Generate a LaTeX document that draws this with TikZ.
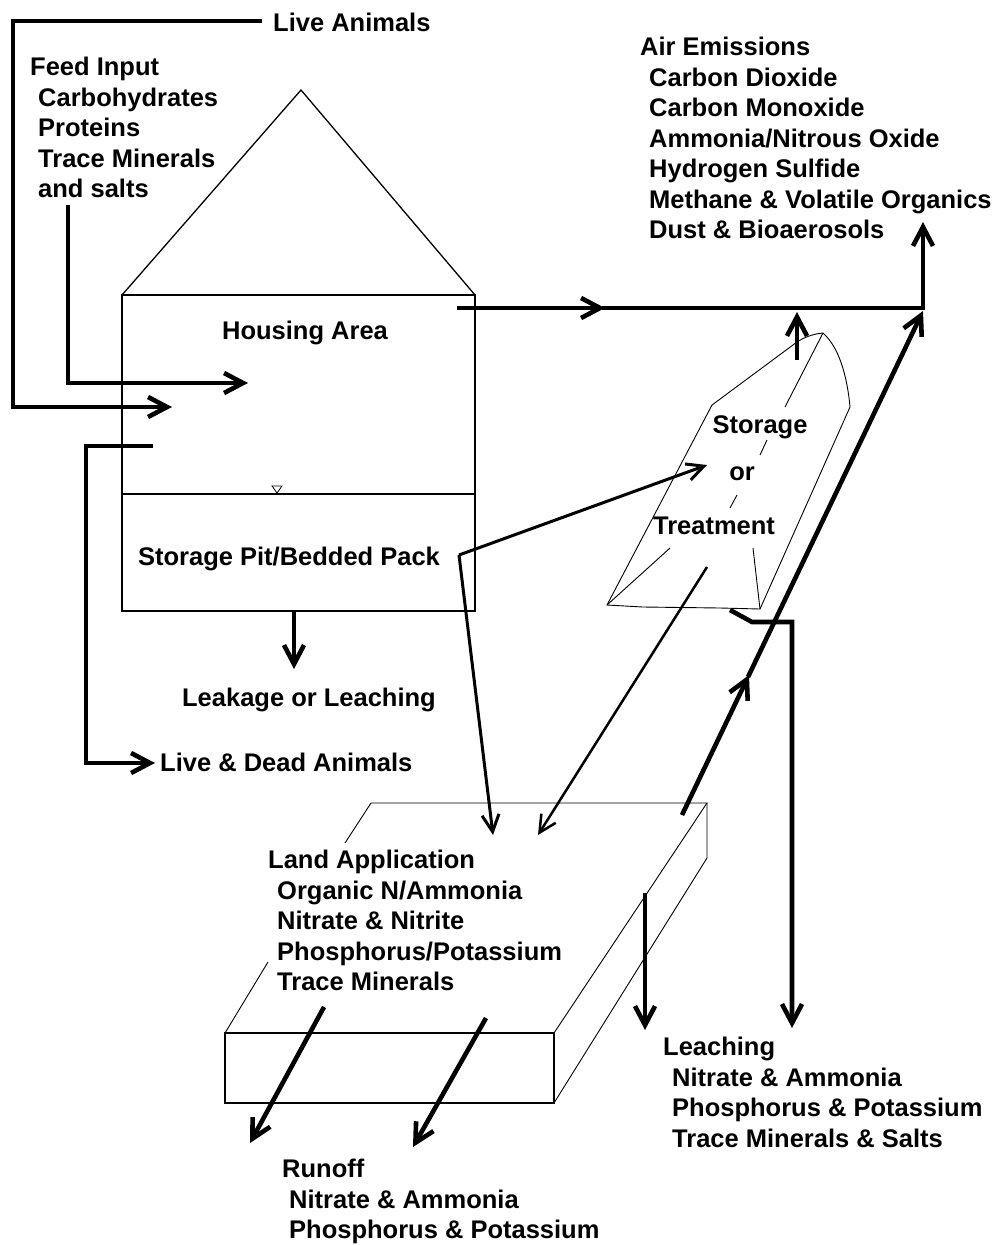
\documentclass[tikz,border=0pt]{standalone}
\usepackage{fontspec}
\setmainfont{Liberation Sans}
\usetikzlibrary{arrows.meta}
\begin{document}
\begin{tikzpicture}[x=1pt,y=-1pt,
  lbl/.style={font=\fontsize{25.5}{30.5}\selectfont\bfseries, inner sep=0pt, anchor=north west, align=left},
  outline/.style={line width=1.3pt, line join=miter},
  faint/.style={line width=0.9pt},
  heavy/.style={line width=4.6pt, line join=miter},
  medium/.style={line width=3pt, line join=miter},
  barb/.style={-{Straight Barb[length=19pt,width=20pt]}},
  sbarb/.style={-{Straight Barb[length=17pt,width=17pt]}}
]
\useasboundingbox[fill=white] (0,0) rectangle (1000,1245);

% ---------- texts ----------
\node[lbl] (livean) at (273,13) {Live Animals};
\node[lbl] (feed) at (30,57) {Feed Input\\\hspace*{8pt}Carbohydrates\\\hspace*{8pt}Proteins\\\hspace*{8pt}Trace Minerals\\\hspace*{8pt}and salts};
\node[lbl,anchor=north] (housing) at (305,321) {Housing Area};
\node[lbl,anchor=north] (pit) at (289,547) {Storage Pit/Bedded Pack};
\node[lbl,anchor=north] (leak) at (309,688) {Leakage or Leaching};
\node[lbl] (livedead) at (160,753) {Live \& Dead Animals};
\node[lbl] (air) at (640,37) {Air Emissions\\\hspace*{9pt}Carbon Dioxide\\\hspace*{9pt}Carbon Monoxide\\\hspace*{9pt}Ammonia/Nitrous Oxide\\\hspace*{9pt}Hydrogen Sulfide\\\hspace*{9pt}Methane \& Volatile Organics\\\hspace*{9pt}Dust \& Bioaerosols};
\node[lbl,anchor=north] (stor) at (760,415) {Storage};
\node[lbl,anchor=base] (or) at (742,480) {or};
\node[lbl,anchor=north] (treat) at (714,517) {Treatment};
\node[lbl] (land) at (268,850) {Land Application\\\hspace*{9pt}Organic N/Ammonia\\\hspace*{9pt}Nitrate \& Nitrite\\\hspace*{9pt}Phosphorus/Potassium\\\hspace*{9pt}Trace Minerals};
\node[lbl] (leach) at (663,1037) {Leaching\\\hspace*{9pt}Nitrate \& Ammonia\\\hspace*{9pt}Phosphorus \& Potassium\\\hspace*{9pt}Trace Minerals \& Salts};
\node[lbl] (runoff) at (282,1159) {Runoff\\\hspace*{7pt}Nitrate \& Ammonia\\\hspace*{7pt}Phosphorus \& Potassium};

% ---------- house ----------
\draw[outline] (122,295) -- (301,90) -- (475,295);
\draw[outline] (122,295) rectangle (475,611);
\draw[outline] (122,494) -- (475,494);
\draw[line width=0.8pt] (272,486) -- (282,486) -- (277,493) -- cycle;

% ---------- storage / treatment shape ----------
\draw[faint] (823,333) .. controls (812,334) and (803,338) .. (797,342)
  -- (712,405) -- (607,605) -- (643,607) -- (720,608) -- (760,609) -- (850,407)
  .. controls (848,385) and (842,350) .. (823,333);
\draw[faint] (823,333) -- (785,407);
\draw[faint] (767,440) -- (760,455);
\draw[faint] (737,495) -- (730,508);
\draw[faint] (670,548) -- (607,605);
\draw[faint] (753,548) -- (760,609);

% ---------- land application slab ----------
\draw[outline] (225,1033) rectangle (554,1103);
\draw[faint] (554,1033) -- (707,803) -- (371,803) -- (345,843);
\draw[faint] (707,803) -- (707,858) -- (554,1103);
\draw[faint] (268,962) -- (225,1033);

% ---------- coordinates ----------
\coordinate (la0) at (262,21);
\coordinate (la1) at (13,21);
\coordinate (la2) at (13,407);
\coordinate (la3) at (172,407);
\coordinate (fi0) at (68,205);
\coordinate (fi1) at (68,383);
\coordinate (fi2) at (248,383);
\coordinate (ld0) at (153,446);
\coordinate (ld1) at (86,446);
\coordinate (ld2) at (86,763);
\coordinate (ld3) at (155,763);
\coordinate (lk0) at (294,611);
\coordinate (lk1) at (294,669);
\coordinate (h0) at (457,308);
\coordinate (hm) at (605,308);
\coordinate (hc) at (923,308);
\coordinate (airtip) at (923,222);
\coordinate (su0) at (797,360);
\coordinate (su1) at (797,312);
\coordinate (pc) at (459,555);
\coordinate (pst) at (707,465);
\coordinate (pla) at (493,835);
\coordinate (st0) at (707,567);
\coordinate (st1) at (538,835);
\coordinate (dg0) at (682,815);
\coordinate (dgm) at (749,675);
\coordinate (dg1) at (923,311);
\coordinate (sl0) at (730,610);
\coordinate (sl1) at (752,622);
\coordinate (sl2) at (792,622);
\coordinate (sl3) at (792,1028);
\coordinate (lv0) at (645,893);
\coordinate (lv1) at (645,1030);
\coordinate (ro0) at (324,1007);
\coordinate (ro1) at (250,1143);
\coordinate (rp0) at (486,1018);
\coordinate (rp1) at (413,1147);

% ---------- connectors ----------
\draw[heavy,barb] (la0) -- (la1) -- (la2) -- (la3);
\draw[heavy,barb] (fi0) -- (fi1) -- (fi2);
\draw[heavy,barb] (ld0) -- (ld1) -- (ld2) -- (ld3);
\draw[heavy,barb] (lk0) -- (lk1);
\draw[heavy,barb] (h0) -- (hm);
\draw[heavy] ([xshift=-3pt]hm) -- ([xshift=2.3pt]hc);
\draw[heavy,barb] ([yshift=2.3pt]hc) -- (airtip);
\draw[heavy,barb] (su0) -- (su1);
\draw[medium,sbarb] (pc) -- (pst);
\draw[medium,sbarb] (pc) -- (pla);
\draw[line width=2.5pt,sbarb] (st0) -- (st1);
\draw[heavy,barb] (dg0) -- (dgm);
\draw[heavy,barb] ([shift={(-1pt,-2pt)}]dgm) -- (dg1);
\draw[heavy,barb] (sl0) -- (sl1) -- (sl2) -- (sl3);
\draw[heavy,barb] (lv0) -- (lv1);
\draw[heavy,barb] (ro0) -- (ro1);
\draw[heavy,barb] (rp0) -- (rp1);
\end{tikzpicture}
\end{document}
